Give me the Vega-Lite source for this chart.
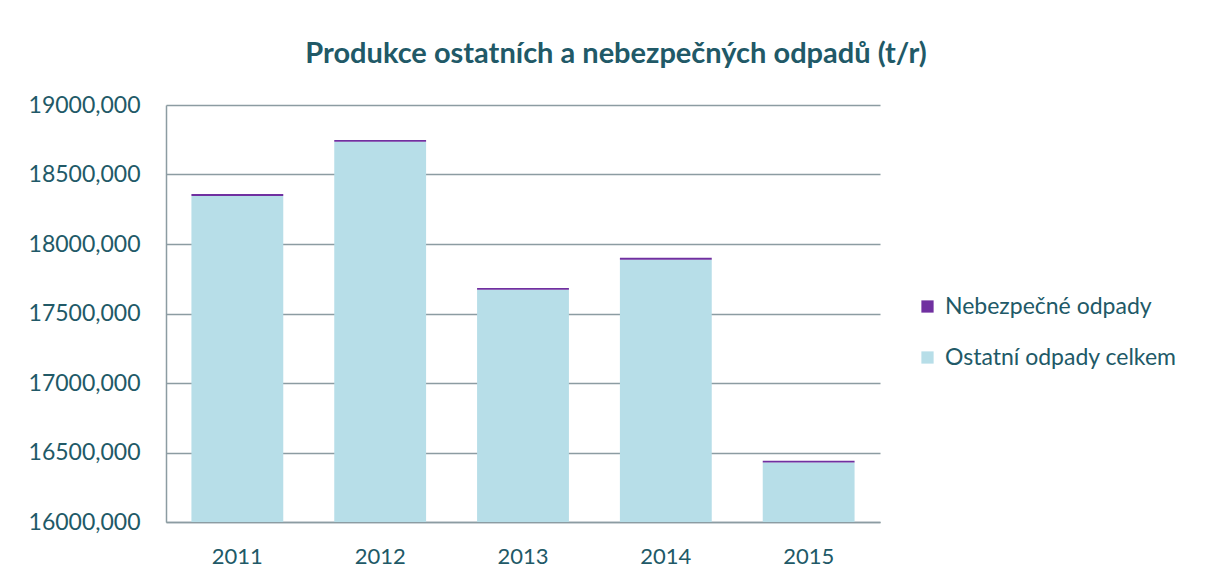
{
  "$schema": "https://vega.github.io/schema/vega-lite/v6.json",
  "width": 714,
  "height": 417,
  "autosize": "none",
  "padding": {"left": 166, "top": 105, "right": 345, "bottom": 59},
  "background": "white",
  "title": {
    "text": "Produkce ostatních a nebezpečných odpadů (t/r)",
    "font": "Lato",
    "fontSize": 29,
    "fontWeight": "bold",
    "color": "#215967",
    "anchor": "middle",
    "dx": 93,
    "offset": 25
  },
  "data": {
    "values": [
      {"rok": "2011", "druh": "Ostatní  odpady celkem", "hodnota": 18346},
      {"rok": "2011", "druh": "Nebezpečné  odpady", "hodnota": 14},
      {"rok": "2012", "druh": "Ostatní  odpady celkem", "hodnota": 18735},
      {"rok": "2012", "druh": "Nebezpečné  odpady", "hodnota": 13},
      {"rok": "2013", "druh": "Ostatní  odpady celkem", "hodnota": 17670},
      {"rok": "2013", "druh": "Nebezpečné  odpady", "hodnota": 13},
      {"rok": "2014", "druh": "Ostatní  odpady celkem", "hodnota": 17887},
      {"rok": "2014", "druh": "Nebezpečné  odpady", "hodnota": 14},
      {"rok": "2015", "druh": "Ostatní  odpady celkem", "hodnota": 16428},
      {"rok": "2015", "druh": "Nebezpečné  odpady", "hodnota": 13}
    ]
  },
  "mark": {"type": "bar", "clip": true},
  "encoding": {
    "x": {
      "field": "rok",
      "type": "nominal",
      "scale": {"paddingInner": 0.357, "paddingOuter": 0.178},
      "axis": {
        "title": null,
        "labelAngle": 0,
        "labelFont": "Lato",
        "labelFontSize": 22,
        "labelColor": "#215967",
        "labelPadding": 24,
        "ticks": false,
        "domainColor": "#8c9ca2",
        "domainWidth": 1.5
      }
    },
    "y": {
      "field": "hodnota",
      "type": "quantitative",
      "stack": "zero",
      "scale": {"domain": [16000, 19000], "zero": false},
      "axis": {
        "title": null,
        "values": [16000, 16500, 17000, 17500, 18000, 18500, 19000],
        "labelExpr": "replace(format(datum.value, '.3f'), '.', ',')",
        "labelFont": "Lato",
        "labelFontSize": 23,
        "labelColor": "#215967",
        "labelPadding": 26,
        "ticks": false,
        "domainColor": "#8c9ca2",
        "domainWidth": 1.5,
        "gridColor": "#8c9ca2",
        "gridWidth": 1.5
      }
    },
    "color": {
      "field": "druh",
      "type": "nominal",
      "scale": {
        "domain": ["Nebezpečné  odpady", "Ostatní  odpady celkem"],
        "range": ["#7030a0", "#b7dee8"]
      },
      "legend": {
        "title": null,
        "orient": "none",
        "legendX": 750,
        "legendY": 190,
        "symbolType": "square",
        "symbolSize": 150,
        "symbolStrokeWidth": 0,
        "labelFont": "Lato",
        "labelFontSize": 23,
        "labelColor": "#215967",
        "labelLimit": 0,
        "rowPadding": 27,
        "labelOffset": 6
      }
    },
    "order": {"field": "druh", "sort": "descending"}
  },
  "config": {
    "view": {"stroke": null}
  }
}
